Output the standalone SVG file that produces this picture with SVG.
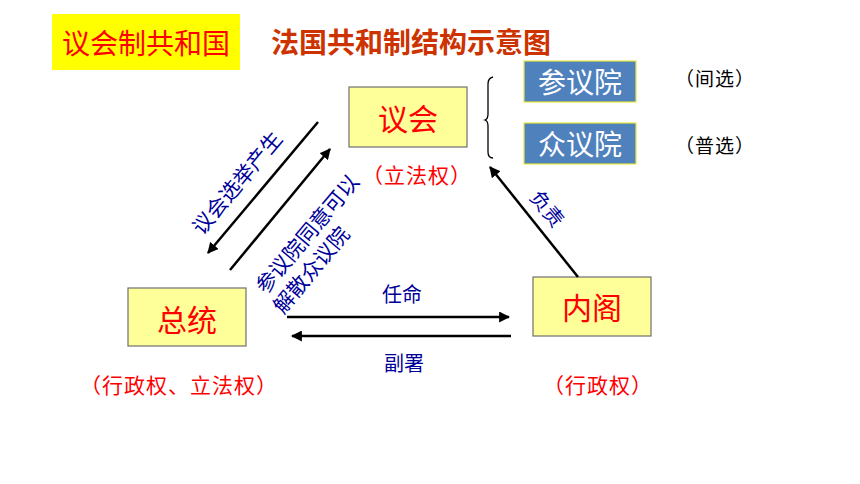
<svg xmlns="http://www.w3.org/2000/svg" width="860" height="484" viewBox="0 0 860 484">
<defs>
<style>
text{font-family:"Noto Sans CJK SC","Noto Sans",sans-serif;}
.box{fill:#FFFF99;stroke:#707070;stroke-width:1.2;}
.blue{fill:#4F81BD;stroke:#E8E840;stroke-width:1.2;}
.red{fill:#FF0000;}
.big{font-size:30px;text-anchor:middle;dominant-baseline:central;}
.lbl{font-size:21px;letter-spacing:1px;text-anchor:middle;dominant-baseline:central;fill:#FF0000;}
.nav{font-size:20px;text-anchor:middle;dominant-baseline:central;fill:#000099;}
.rot{font-size:21px;}
.wt{font-size:28px;text-anchor:middle;dominant-baseline:central;fill:#FFFFFF;}
.blk{font-size:19px;letter-spacing:1px;text-anchor:middle;dominant-baseline:central;fill:#000000;}
.ln{stroke:#000;stroke-width:2.5;fill:none;marker-end:url(#ah);}
</style>
<marker id="ah" viewBox="0 0 10 10" refX="9" refY="5" markerWidth="4.4" markerHeight="4.4" orient="auto" markerUnits="strokeWidth">
<path d="M0,0 L10,5 L0,10 Z" fill="#000"/>
</marker>
</defs>
<rect width="860" height="484" fill="#FFFFFF"/>

<g id="title-box">
<rect x="52" y="14" width="188" height="56" fill="#FFFF00"/>
<text x="146" y="42" font-size="28" text-anchor="middle" dominant-baseline="central" fill="#FF0000">议会制共和国</text>
</g>
<g id="title">
<text x="411" y="41" font-size="28" font-weight="bold" text-anchor="middle" dominant-baseline="central" fill="#CC3300">法国共和制结构示意图</text>
</g>

<g id="parliament">
<rect class="box" x="349" y="87" width="118" height="60"/>
<text class="big red" x="408" y="117">议会</text>
<text class="lbl" x="417" y="174">（立法权）</text>
</g>

<g id="senate">
<rect class="blue" x="524" y="61" width="112" height="41"/>
<text class="wt" x="580" y="81">参议院</text>
<text class="blk" x="715" y="77">（间选）</text>
</g>

<g id="assembly">
<rect class="blue" x="524" y="123" width="112" height="41"/>
<text class="wt" x="580" y="143">众议院</text>
<text class="blk" x="715" y="144">（普选）</text>
</g>

<g id="brace">
<path d="M493,77 Q488,78 488,84 L488,114 Q488,119 485,120 Q488,121 488,126 L488,152 Q488,158 493,158" fill="none" stroke="#000" stroke-width="1.3"/>
</g>

<g id="president">
<rect class="box" x="128" y="288" width="118" height="58"/>
<text class="big red" x="187" y="318">总统</text>
<text class="lbl" x="179" y="384">（行政权、立法权）</text>
</g>

<g id="cabinet">
<rect class="box" x="533" y="277" width="118" height="59"/>
<text class="big red" x="592" y="306">内阁</text>
<text class="lbl" x="598" y="384">（行政权）</text>
</g>

<g id="connectors">
<line class="ln" x1="318" y1="122" x2="208" y2="253"/>
<line class="ln" x1="230" y1="270" x2="330" y2="149"/>
<line class="ln" x1="578" y1="277" x2="490" y2="167"/>
<line class="ln" x1="287" y1="317" x2="509" y2="317"/>
<line class="ln" x1="511" y1="336" x2="292" y2="336"/>
<text class="nav rot" transform="translate(236,182) rotate(-50)">议会选举产生</text>
<text class="nav rot" transform="translate(306,233) rotate(-50)">参议院同意可以</text>
<text class="nav rot" transform="translate(310,269) rotate(-50)">解散众议院</text>
<text class="nav" transform="translate(548,208) rotate(51)">负责</text>
<text class="nav" x="402" y="293">任命</text>
<text class="nav" x="404" y="362">副署</text>
</g>
</svg>
